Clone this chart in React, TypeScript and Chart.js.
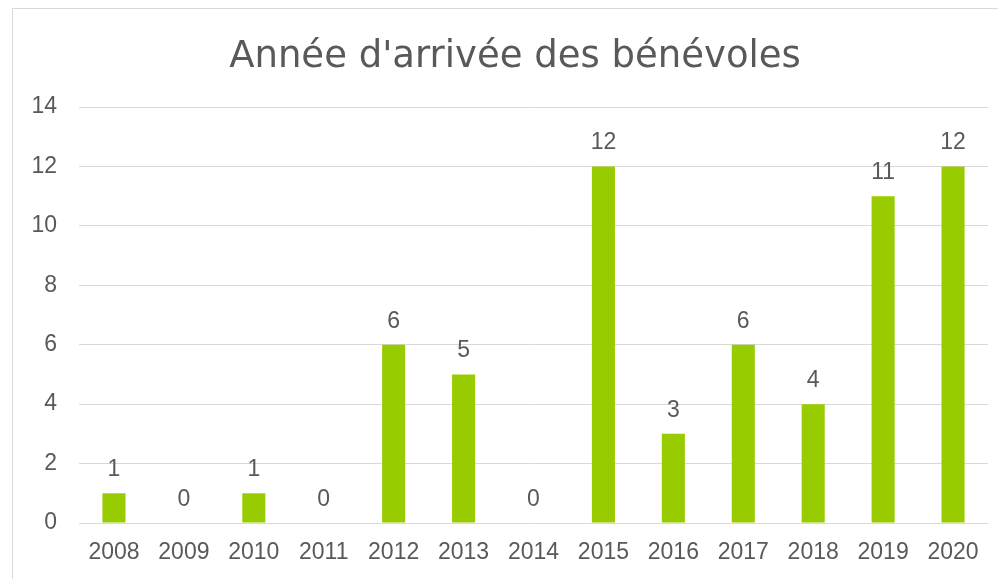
import React, { useEffect, useRef } from "react";
import { Chart, registerables } from "chart.js";

Chart.register(...registerables);

const categories = ["2008", "2009", "2010", "2011", "2012", "2013", "2014", "2015", "2016", "2017", "2018", "2019", "2020"];
const values = [1, 0, 1, 0, 6, 5, 0, 12, 3, 6, 4, 11, 12];
const yTicks = [0, 2, 4, 6, 8, 10, 12, 14];
const titleText = "Année d'arrivée des bénévoles";

const FONT = "'Liberation Sans', Arial, sans-serif";
const TITLE_FONT = "'DejaVu Sans', sans-serif";
const TEXT = "#595959";
const GRID = "#d9d9d9";
const BAR = "#99cc00";

const framePlugin = {
  id: "frame",
  beforeDraw(chart: any) {
    const ctx = chart.ctx;
    ctx.save();
    ctx.fillStyle = "#ffffff";
    ctx.fillRect(0, 0, chart.width, chart.height);
    ctx.strokeStyle = GRID;
    ctx.lineWidth = 1;
    ctx.strokeRect(12.5, 8.5, 2000, 2000);
    ctx.fillStyle = TEXT;
    ctx.font = `37px ${TITLE_FONT}`;
    ctx.textAlign = "center";
    ctx.textBaseline = "alphabetic";
    ctx.fillText(titleText, 515, 67);
    ctx.restore();
  },
};

const labelPlugin = {
  id: "barLabels",
  afterDatasetsDraw(chart: any) {
    const ctx = chart.ctx;
    const meta = chart.getDatasetMeta(0);
    ctx.save();
    ctx.fillStyle = TEXT;
    ctx.font = `23px ${FONT}`;
    ctx.textAlign = "center";
    ctx.textBaseline = "alphabetic";
    meta.data.forEach((el: any, i: number) => {
      ctx.fillText(String(values[i]), el.x, el.y - 17);
    });
    ctx.restore();
  },
};

export default function App() {
  const ref = useRef<HTMLCanvasElement>(null);
  useEffect(() => {
    if (!ref.current) return;
    const chart = new Chart(ref.current, {
      type: "bar",
      data: {
        labels: categories,
        datasets: [
          {
            data: values,
            backgroundColor: BAR,
            barPercentage: 0.33,
            categoryPercentage: 1,
          },
        ],
      },
      options: {
        animation: false,
        responsive: false,
        maintainAspectRatio: false,
        layout: { padding: { left: 0, right: 10, top: 107, bottom: 0 } },
        plugins: {
          legend: { display: false },
          tooltip: { enabled: false },
          title: { display: false },
        },
        scales: {
          x: {
            grid: { display: false, drawTicks: false },
            border: { display: false },
            ticks: {
              color: TEXT,
              font: { family: FONT, size: 23 },
              padding: 16,
              maxRotation: 0,
              autoSkip: false,
            },
            afterFit: (s: any) => {
              s.height = 56;
            },
          },
          y: {
            min: 0,
            max: 14,
            afterBuildTicks: (s: any) => {
              s.ticks = yTicks.map((v) => ({ value: v }));
            },
            grid: { color: GRID, lineWidth: 1, drawTicks: false },
            border: { display: false },
            ticks: {
              color: TEXT,
              font: { family: FONT, size: 23 },
              padding: 22,
            },
            afterFit: (s: any) => {
              s.width = 79;
            },
          },
        },
      },
      plugins: [framePlugin, labelPlugin],
    });
    return () => chart.destroy();
  }, []);
  return (
    <div style={{ position: "fixed", left: 0, top: 0, width: 998, height: 579, background: "#fff" }}>
      <canvas ref={ref} width={998} height={579} style={{ display: "block" }} />
    </div>
  );
}
